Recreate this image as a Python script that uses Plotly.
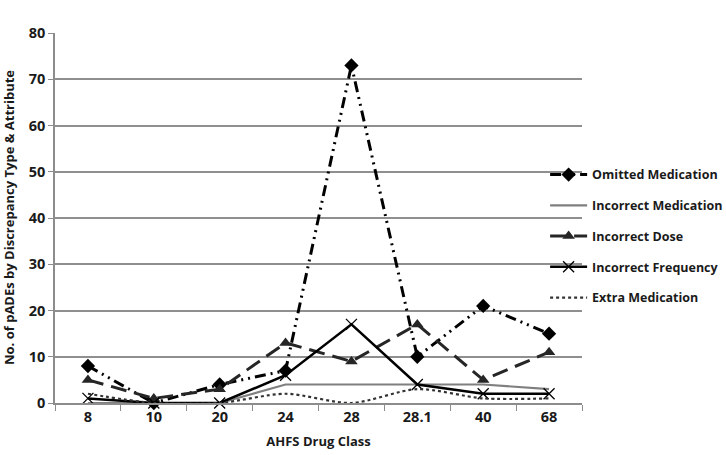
import plotly.graph_objects as go

categories = ["8", "10", "20", "24", "28", "28.1", "40", "68"]
omitted = [8, 0, 4, 7, 73, 10, 21, 15]
incorrect_med = [0, 0, 0, 4, 4, 4, 4, 3]
incorrect_dose = [5, 1, 3, 13, 9, 17, 5, 11]
incorrect_freq = [1, 0, 0, 6, 17, 4, 2, 2]
extra_med = [2, 0, 0, 2, 0, 3, 1, 1]
y_ticks = [0, 10, 20, 30, 40, 50, 60, 70, 80]

FONT = "Open Sans"
W = 700
fig = go.Figure()

fig.add_trace(go.Scatter(
    x=categories, y=omitted, name="Omitted Medication", mode="lines+markers",
    line=dict(color="#000000", width=3, dash="11px,5px,2px,5px,2px,5px"),
    marker=dict(symbol="diamond", size=11, color="#000000"),
    legendgroup="a", cliponaxis=False))
fig.add_trace(go.Scatter(
    x=categories, y=incorrect_med, name="Incorrect Medication", mode="lines",
    line=dict(color="#7f7f7f", width=2.2),
    legendgroup="b", cliponaxis=False))
fig.add_trace(go.Scatter(
    x=categories, y=incorrect_dose, name="Incorrect Dose", mode="lines+markers",
    line=dict(color="#262626", width=3, dash="16px,8px"),
    marker=dict(symbol="triangle-up", size=11, color="#262626"),
    legendgroup="c", cliponaxis=False))
fig.add_trace(go.Scatter(
    x=categories, y=incorrect_freq, name="Incorrect Frequency", mode="lines+markers",
    line=dict(color="#000000", width=2.5),
    marker=dict(symbol="x-thin-open", size=11, line=dict(color="#333333", width=1.3)),
    legendgroup="d", cliponaxis=False))
fig.add_trace(go.Scatter(
    x=categories, y=extra_med, name="Extra Medication", mode="lines",
    line=dict(color="#333333", width=2.2, dash="dot", shape="spline", smoothing=0.8),
    legendgroup="e", cliponaxis=False))

fig.update_layout(
    width=726, height=455,
    margin=dict(l=55, r=144, t=33, b=52, autoexpand=False),
    paper_bgcolor="white", plot_bgcolor="white",
    font=dict(family=FONT, size=13, color="#1a1a1a", weight=W),
    showlegend=True,
    legend=dict(x=0.93, xanchor="left", y=0.657, yanchor="top",
                traceorder="grouped", tracegroupgap=11.5,
                font=dict(family=FONT, size=12.5, color="#1a1a1a", weight=W),
                bgcolor="rgba(0,0,0,0)", itemwidth=37),
    annotations=[dict(
        text="No. of pADEs by Discrepancy Type & Attribute",
        xref="paper", yref="paper", x=(9 - 55) / 527, y=0.5,
        xanchor="center", yanchor="middle", textangle=-90, showarrow=False,
        font=dict(family=FONT, size=13, color="#1a1a1a", weight=W))],
)
fig.update_xaxes(
    type="category", range=[-0.5, 7.5], automargin=False,
    showline=True, linecolor="#8c8c8c", linewidth=1.5,
    ticks="outside", tickson="boundaries", ticklen=6, tickcolor="#8c8c8c",
    showgrid=False, zeroline=False,
    tickfont=dict(family=FONT, size=14.5, color="#1a1a1a", weight=W),
    title=dict(text="AHFS Drug Class", standoff=12,
               font=dict(family=FONT, size=13, color="#1a1a1a", weight=W)),
)
fig.update_yaxes(
    range=[0, 80], tickvals=y_ticks, automargin=False,
    showline=True, linecolor="#8c8c8c", linewidth=1.5,
    ticks="outside", ticklen=5, tickcolor="#8c8c8c",
    showgrid=True, gridcolor="#8f8f8f", gridwidth=1.5, zeroline=False,
    tickfont=dict(family=FONT, size=14.5, color="#1a1a1a", weight=W),
)

fig.write_html("out.html", config={"displayModeBar": False},
               post_script="document.body.style.margin='0';document.body.style.overflow='hidden';")
